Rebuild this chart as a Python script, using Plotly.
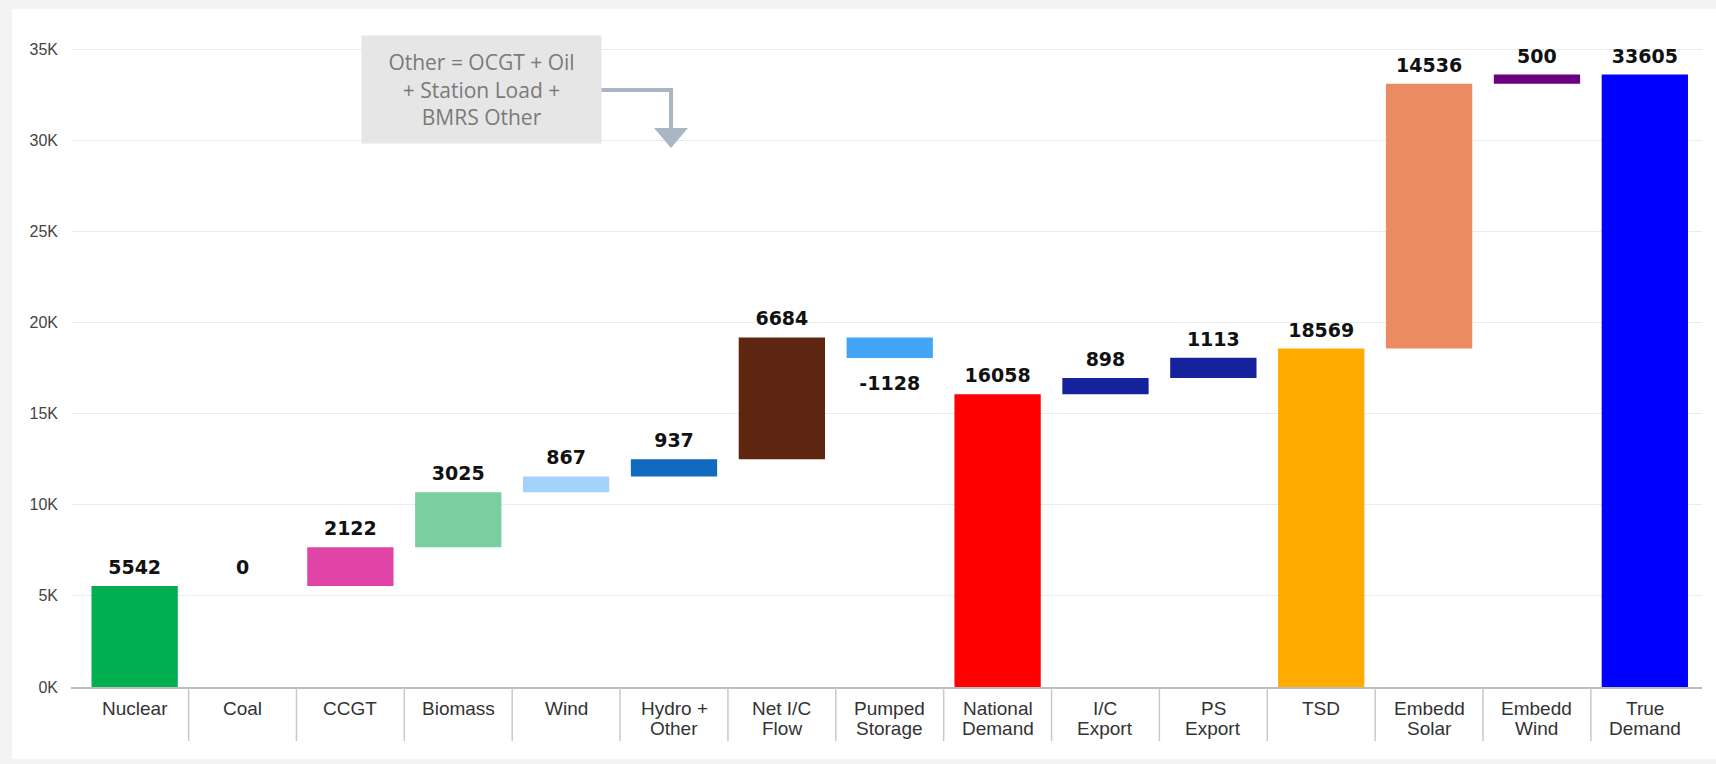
import plotly.graph_objects as go

# Generation / demand breakdown (MW)
categories = ["Nuclear", "Coal", "CCGT", "Biomass", "Wind", "Hydro +<br>Other",
              "Net I/C<br>Flow", "Pumped<br>Storage", "National<br>Demand", "I/C<br>Export",
              "PS<br>Export", "TSD", "Embedd<br>Solar", "Embedd<br>Wind", "True<br>Demand"]
values = [5542, 0, 2122, 3025, 867, 937, 6684, -1128, 16058, 898, 1113, 18569, 14536, 500, 33605]
is_total = [False, False, False, False, False, False, False, False, True,
            False, False, True, False, False, True]
bar_colors = ["#00B050", "#9E9E9E", "#E044A7", "#79CF9F", "#A3D3FB", "#1269C0",
              "#5C2611", "#42A5F5", "#FF0000", "#14239B", "#14239B", "#FFAB00",
              "#EB8B62", "#6B007E", "#0000FF"]
y_tick_vals = [0, 5000, 10000, 15000, 20000, 25000, 30000, 35000]
y_tick_text = ["0K", "5K", "10K", "15K", "20K", "25K", "30K", "35K"]
note_text = "Other = OCGT + Oil<br>+ Station Load +<br>BMRS Other"

# Running waterfall: totals restart from zero
bases, heights = [], []
running = 0
for v, tot in zip(values, is_total):
    if tot:
        bases.append(0)
        running = v
    else:
        bases.append(running)
        running += v
    heights.append(v)

label_y = [b + h for b, h in zip(bases, heights)]
label_pos = ["top center" if h >= 0 else "bottom center" for h in heights]
label_size = [10 if h >= 0 else 26 for h in heights]

W, H = 1716, 764
L, R, T, B = 71, 14, 40, 77
PW, PH = W - L - R, H - T - B


def px(x):
    return (x - L) / PW


def py(y):
    return (H - B - y) / PH


fig = go.Figure()
fig.add_trace(go.Bar(
    x=categories, y=heights, base=bases, width=0.8,
    marker=dict(color=bar_colors, line=dict(width=0)),
    hoverinfo="skip", showlegend=False,
))
fig.add_trace(go.Scatter(
    x=categories, y=label_y, mode="markers+text",
    text=[str(v) for v in values], textposition=label_pos,
    marker=dict(size=label_size, opacity=0),
    textfont=dict(family="DejaVu Sans", size=19, color="#111111", weight="bold"),
    hoverinfo="skip", showlegend=False, cliponaxis=False,
))

shapes = []
# card background
shapes.append(dict(type="rect", xref="paper", yref="paper", layer="below",
                   x0=px(12), x1=px(1716), y0=py(759), y1=py(9),
                   fillcolor="white", line=dict(width=0)))
# category dividers below the axis
for i in range(len(categories) - 1):
    shapes.append(dict(type="line", xref="x", yref="paper",
                       x0=i + 0.5, x1=i + 0.5, y0=0, y1=py(741),
                       line=dict(color="#c9c9c9", width=1.5)))
# elbow arrow from the note box
arrow_col = "#A9B6C4"
shapes.append(dict(type="path", xref="paper", yref="paper",
                   path=f"M {px(598)},{py(90)} L {px(671)},{py(90)} L {px(671)},{py(130)}",
                   line=dict(color=arrow_col, width=4)))
shapes.append(dict(type="path", xref="paper", yref="paper",
                   path=f"M {px(654)},{py(128)} L {px(688)},{py(128)} L {px(671)},{py(148)} Z",
                   fillcolor=arrow_col, line=dict(color=arrow_col, width=0)))

annotations = [dict(
    xref="paper", yref="paper", x=px(361), y=py(35), xanchor="left", yanchor="top",
    text=note_text, showarrow=False, align="center",
    width=237, height=105, bgcolor="#E6E6E6",
    font=dict(family="Open Sans", size=21, color="#7a7a7a"),
)]
# category names under the axis, one annotation per line for tight spacing
cat_font = dict(family="Liberation Sans", size=19, color="#333333")
for cat in categories:
    for k, line in enumerate(cat.split("<br>")):
        annotations.append(dict(
            xref="x", yref="paper", x=cat, y=py(708 + 20 * k),
            xanchor="center", yanchor="middle", text=line, showarrow=False,
            font=cat_font,
        ))

fig.update_layout(
    width=W, height=H,
    margin=dict(l=L, r=R, t=T, b=B, pad=0),
    paper_bgcolor="#F3F3F3", plot_bgcolor="rgba(0,0,0,0)",
    bargap=0.2, shapes=shapes, annotations=annotations,
    xaxis=dict(
        type="category", range=[-0.59, 14.53],
        showgrid=False, showline=True, linecolor="#BDBDBD", linewidth=2,
        ticks="", showticklabels=False, fixedrange=True,
    ),
    yaxis=dict(
        range=[0, 35500], tickvals=y_tick_vals, ticktext=y_tick_text,
        showgrid=True, gridcolor="#EBEBEB", gridwidth=1, zeroline=False,
        showline=False, ticks="", ticklabelstandoff=12,
        tickfont=dict(family="Liberation Sans", size=16, color="#444444"),
        fixedrange=True,
    ),
)

fig.write_html("out.html")
